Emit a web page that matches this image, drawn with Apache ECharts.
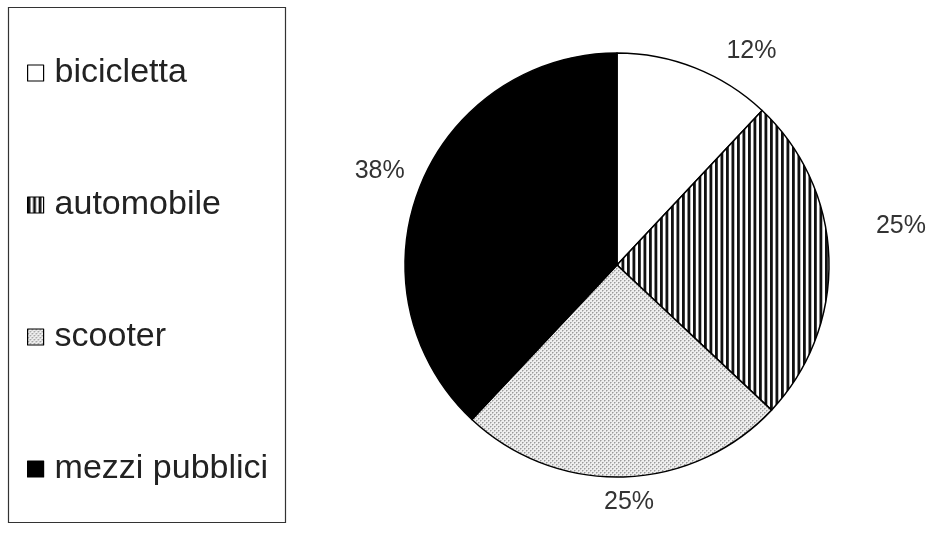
<!DOCTYPE html>
<html>
<head>
<meta charset="utf-8">
<script src="https://cdn.jsdelivr.net/npm/echarts@6/dist/echarts.min.js"></script>
<style>
html,body{margin:0;padding:0;background:#fff;}
#c{width:930px;height:536px;}
</style>
</head>
<body>
<div id="c"></div>
<script>
var categories = ['bicicletta', 'automobile', 'scooter', 'mezzi pubblici'];
var values = [12, 25, 25, 38];
var labelTexts = ['12%', '25%', '25%', '38%'];
// label nudges (style only)
var labelNudge = [[22, -6], [30, -32], [-25, 13], [1, -11]];

function makePattern(kind) {
  var cv = document.createElement('canvas');
  var ctx = cv.getContext('2d');
  if (kind === 'stripes') {
    cv.width = 11; cv.height = 4;
    ctx.fillStyle = '#ffffff'; ctx.fillRect(0, 0, 11, 4);
    ctx.fillStyle = '#111111';
    ctx.fillRect(0, 0, 2.8, 4);
    ctx.fillRect(5.5, 0, 2.8, 4);
  } else {
    cv.width = 4; cv.height = 4;
    ctx.fillStyle = '#eeeeee'; ctx.fillRect(0, 0, 4, 4);
    ctx.fillStyle = '#9a9a9a';
    ctx.fillRect(0, 0, 1, 1); ctx.fillRect(2, 2, 1, 1);
    ctx.fillStyle = '#c4c4c4';
    ctx.fillRect(1, 0, 1, 1); ctx.fillRect(0, 1, 1, 1);
    ctx.fillRect(3, 2, 1, 1); ctx.fillRect(2, 3, 1, 1);
  }
  return { image: cv, repeat: 'repeat' };
}

var fills = ['#ffffff', makePattern('stripes'), makePattern('dots'), '#000000'];

var chart = echarts.init(document.getElementById('c'), null, { renderer: 'canvas' });
chart.setOption({
  animation: false,
  backgroundColor: '#ffffff',
  graphic: [{
    type: 'rect',
    shape: { x: 8.5, y: 7.5, width: 277, height: 515 },
    style: { fill: 'none', stroke: '#333333', lineWidth: 1.2 },
    z: 0
  }],
  legend: {
    orient: 'vertical',
    left: 22,
    top: 51,
    itemGap: 98,
    itemWidth: 16,
    itemHeight: 16,
    icon: 'rect',
    data: categories,
    textStyle: {
      fontFamily: 'Liberation Sans, Arial, sans-serif',
      fontSize: 34,
      color: '#222222',
      padding: [0, 0, 0, 6]
    },
    itemStyle: { borderColor: '#000000', borderWidth: 1.2 }
  },
  series: [{
    type: 'pie',
    center: [617, 265],
    radius: 212,
    startAngle: 90,
    clockwise: true,
    avoidLabelOverlap: false,
    itemStyle: { borderColor: '#000000', borderWidth: 1.5 },
    emphasis: { disabled: true },
    label: {
      show: true,
      position: 'outside',
      formatter: function (p) { return labelTexts[p.dataIndex]; },
      fontFamily: 'Liberation Sans, Arial, sans-serif',
      fontSize: 25,
      color: '#333333'
    },
    labelLine: { show: false, length: 12, length2: 0 },
    labelLayout: function (p) {
      var n = labelNudge[p.dataIndex];
      return { dx: n[0], dy: n[1] };
    },
    data: categories.map(function (c, i) {
      return { name: c, value: values[i], itemStyle: { color: fills[i] } };
    })
  }]
});
</script>
</body>
</html>
